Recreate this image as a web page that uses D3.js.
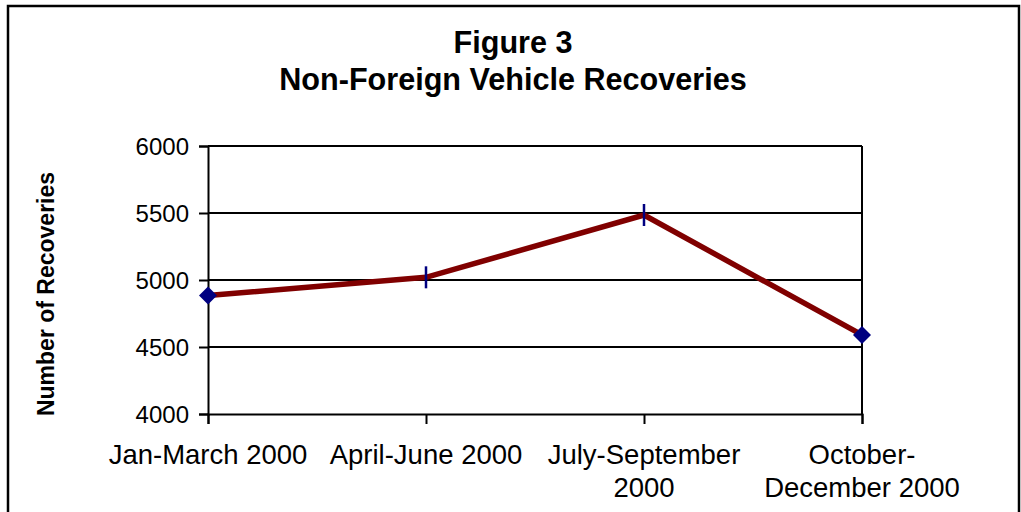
<!DOCTYPE html>
<html>
<head>
<meta charset="utf-8">
<script src="https://cdn.jsdelivr.net/npm/d3@7"></script>
<style>
  html, body { margin: 0; padding: 0; background: #fff; }
  svg { display: block; font-family: "Liberation Sans", Arial, sans-serif; }
</style>
</head>
<body>
<svg id="chart" width="1021" height="512"></svg>
<script>
// ---- data ----
const categories = ["Jan-March 2000", "April-June 2000", "July-September 2000", "October-December 2000"];
const categoryLines = [["Jan-March 2000"], ["April-June 2000"], ["July-September", "2000"], ["October-", "December 2000"]];
const recoveries = [4884, 5020, 5485, 4590];
const yTicks = [4000, 4500, 5000, 5500, 6000];
const titleLines = ["Figure 3", "Non-Foreign Vehicle Recoveries"];
const yTitle = "Number of Recoveries";

// ---- drawing ----
const svg = d3.select("#chart");
const W = 1021, H = 512;
const plot = { left: 208, right: 862, top: 146, bottom: 414 };

svg.append("rect").attr("x", 0).attr("y", 0).attr("width", W).attr("height", H).attr("fill", "#fff");
// outer frame
svg.append("rect")
  .attr("x", 8).attr("y", 6).attr("width", 1011).attr("height", 540)
  .attr("fill", "none").attr("stroke", "#000").attr("stroke-width", 2.5);

const x = d3.scalePoint().domain(categories).range([plot.left, plot.right]).padding(0);
const y = d3.scaleLinear().domain([4000, 6000]).range([plot.bottom, plot.top]);

// title
svg.append("g").selectAll("text").data(titleLines).join("text")
  .attr("x", 513).attr("y", (d, i) => 53 + i * 37)
  .attr("text-anchor", "middle")
  .attr("font-size", 30.6).attr("font-weight", "bold").attr("fill", "#000")
  .text(d => d);

// gridlines
svg.append("g").selectAll("line").data(yTicks.filter(v => v > 4000)).join("line")
  .attr("x1", plot.left).attr("x2", plot.right)
  .attr("y1", d => y(d)).attr("y2", d => y(d))
  .attr("stroke", "#000").attr("stroke-width", 2);

// right border of plot area
svg.append("line")
  .attr("x1", plot.right).attr("x2", plot.right)
  .attr("y1", plot.top).attr("y2", plot.bottom)
  .attr("stroke", "#000").attr("stroke-width", 2);

// y axis
const yAxis = svg.append("g").attr("transform", `translate(${plot.left},0)`)
  .call(d3.axisLeft(y).tickValues(yTicks).tickSize(9).tickPadding(10).tickFormat(d3.format("d")));
yAxis.select(".domain").attr("stroke", "#000").attr("stroke-width", 2);
yAxis.selectAll(".tick line").attr("stroke", "#000").attr("stroke-width", 2);
yAxis.selectAll(".tick text")
  .attr("font-size", 24).attr("font-family", "Liberation Sans, Arial, sans-serif")
  .attr("fill", "#000").attr("dy", "0.36em");

// x axis
const xAxis = svg.append("g").attr("transform", `translate(0,${plot.bottom})`)
  .call(d3.axisBottom(x).tickSize(10).tickFormat(""));
xAxis.select(".domain").attr("stroke", "#000").attr("stroke-width", 2);
xAxis.selectAll(".tick line").attr("stroke", "#000").attr("stroke-width", 2);

// x labels (wrapped)
const xl = svg.append("g");
categories.forEach((c, i) => {
  const t = xl.append("text")
    .attr("x", x(c)).attr("y", 464)
    .attr("text-anchor", "middle")
    .attr("font-size", 27.5).attr("fill", "#000");
  categoryLines[i].forEach((line, j) => {
    t.append("tspan").attr("x", x(c)).attr("dy", j === 0 ? 0 : 33).text(line);
  });
});

// y axis title
svg.append("text")
  .attr("transform", "translate(54,294) rotate(-90)")
  .attr("text-anchor", "middle")
  .attr("font-size", 23).attr("font-weight", "bold").attr("fill", "#000")
  .text(yTitle);

// line
const line = d3.line().x((d, i) => x(categories[i])).y(d => y(d));
svg.append("path").datum(recoveries)
  .attr("d", line)
  .attr("fill", "none").attr("stroke", "#800000").attr("stroke-width", 5.5)
  .attr("stroke-linejoin", "miter");

// markers
const mk = svg.append("g");
recoveries.forEach((v, i) => {
  const cx = x(categories[i]), cy = y(v);
  if (i === 0 || i === recoveries.length - 1) {
    mk.append("path")
      .attr("d", `M${cx},${cy - 9}L${cx + 9},${cy}L${cx},${cy + 9}L${cx - 9},${cy}Z`)
      .attr("fill", "#000080");
  } else {
    mk.append("line")
      .attr("x1", cx).attr("x2", cx).attr("y1", cy - 11).attr("y2", cy + 11)
      .attr("stroke", "#000080").attr("stroke-width", 2.5);
  }
});
</script>
</body>
</html>
